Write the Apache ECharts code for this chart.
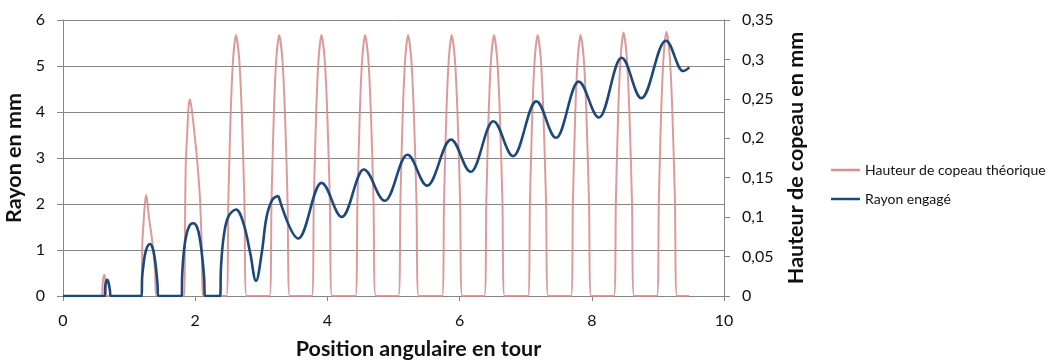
<!DOCTYPE html>
<html>
<head>
<meta charset="utf-8">
<script src="https://cdn.jsdelivr.net/npm/echarts@6/dist/echarts.min.js"></script>
<style>
html,body{margin:0;padding:0;background:#ffffff;}
#chart{width:1053px;height:360px;}
</style>
</head>
<body>
<div id="chart"></div>
<script>
// ---- Data ----
const seriesNames = ['Hauteur de copeau théorique', 'Rayon engagé'];
const xTitle = 'Position angulaire en tour';
const leftTitle = 'Rayon en mm';
const rightTitle = 'Hauteur de copeau en mm';

const xTickLabels = ['0', '2', '4', '6', '8', '10'];
const leftTickLabels = ['0', '1', '2', '3', '4', '5', '6'];
const rightTickLabels = ['0', '0,05', '0,1', '0,15', '0,2', '0,25', '0,3', '0,35'];

// Hauteur de copeau théorique (right axis, mm) : [position en tour, hauteur]
const copeauPoints = [
  [0, 0], [0.585, 0], [0.60, 0.015], [0.612, 0.024], [0.625, 0.027], [0.638, 0.022], [0.648, 0.012], [0.655, 0],
  [1.19, 0], [1.195, 0.035], [1.20, 0.067], [1.221, 0.096], [1.24, 0.118], [1.256, 0.128], [1.275, 0.12], [1.30, 0.10], [1.342, 0.075], [1.392, 0.033], [1.415, 0],
  [1.835, 0], [1.845, 0.08], [1.856, 0.164], [1.881, 0.21], [1.90, 0.24], [1.921, 0.2495], [1.95, 0.235], [1.997, 0.20], [2.038, 0.164], [2.073, 0.122], [2.10, 0.06], [2.115, 0],
  [2.472, 0], [2.501, 0.119], [2.537, 0.232], [2.574, 0.301], [2.617, 0.331], [2.665, 0.301], [2.705, 0.232], [2.745, 0.119], [2.777, 0],
  [3.125, 0], [3.154, 0.119], [3.19, 0.232], [3.227, 0.301], [3.27, 0.331], [3.318, 0.301], [3.358, 0.232], [3.398, 0.119], [3.43, 0],
  [3.765, 0], [3.794, 0.119], [3.83, 0.232], [3.867, 0.301], [3.91, 0.331], [3.958, 0.301], [3.998, 0.232], [4.038, 0.119], [4.07, 0],
  [4.425, 0], [4.454, 0.119], [4.49, 0.232], [4.527, 0.301], [4.57, 0.331], [4.618, 0.301], [4.658, 0.232], [4.698, 0.119], [4.73, 0],
  [5.075, 0], [5.104, 0.119], [5.14, 0.232], [5.177, 0.301], [5.22, 0.331], [5.268, 0.301], [5.308, 0.232], [5.348, 0.119], [5.38, 0],
  [5.735, 0], [5.764, 0.119], [5.80, 0.232], [5.837, 0.301], [5.88, 0.331], [5.928, 0.301], [5.968, 0.232], [6.008, 0.119], [6.04, 0],
  [6.375, 0], [6.404, 0.119], [6.44, 0.232], [6.477, 0.301], [6.52, 0.331], [6.568, 0.301], [6.608, 0.232], [6.648, 0.119], [6.68, 0],
  [7.035, 0], [7.064, 0.119], [7.10, 0.232], [7.137, 0.301], [7.18, 0.331], [7.228, 0.301], [7.268, 0.232], [7.308, 0.119], [7.34, 0],
  [7.685, 0], [7.714, 0.119], [7.75, 0.232], [7.787, 0.301], [7.83, 0.331], [7.878, 0.301], [7.918, 0.232], [7.958, 0.119], [7.99, 0],
  [8.335, 0], [8.364, 0.120], [8.40, 0.234], [8.437, 0.304], [8.48, 0.334], [8.528, 0.304], [8.568, 0.234], [8.608, 0.120], [8.64, 0],
  [8.985, 0], [9.014, 0.121], [9.05, 0.235], [9.087, 0.305], [9.13, 0.335], [9.178, 0.305], [9.218, 0.235], [9.258, 0.121], [9.29, 0],
  [9.47, 0]
];

// Rayon engagé (left axis, mm), first part: humps and start of the wave
const rayonDebut = [
  [0, 0], [0.63, 0], [0.64, 0.22], [0.655, 0.33], [0.67, 0.35], [0.69, 0.28], [0.71, 0.12], [0.725, 0],
  [1.19, 0], [1.197, 0.40], [1.215, 0.65], [1.24, 0.90], [1.275, 1.07], [1.316, 1.13], [1.355, 1.05], [1.385, 0.85], [1.41, 0.57], [1.43, 0.25], [1.44, 0],
  [1.795, 0], [1.803, 0.45], [1.825, 0.92], [1.86, 1.28], [1.91, 1.52], [1.97, 1.58], [2.03, 1.49], [2.075, 1.20], [2.11, 0.80], [2.135, 0.40], [2.15, 0],
  [2.375, 0], [2.39, 0.62], [2.43, 1.28], [2.50, 1.72], [2.617, 1.88], [2.73, 1.58], [2.83, 0.95], [2.92, 0.33],
  [3.006, 0.93], [3.08, 1.72], [3.17, 2.10], [3.258, 2.18]
];
// Rayon engagé (left axis, mm), oscillation: successive peaks and troughs
const rayonOndulation = [
  [3.258, 2.18], [3.56, 1.25], [3.91, 2.46], [4.22, 1.72], [4.55, 2.75],
  [4.87, 2.07], [5.21, 3.07], [5.51, 2.40], [5.87, 3.40], [6.17, 2.70], [6.51, 3.80], [6.81, 3.04],
  [7.16, 4.23], [7.46, 3.44], [7.80, 4.66], [8.11, 3.88], [8.45, 5.18], [8.75, 4.30], [9.12, 5.55],
  [9.38, 4.89], [9.475, 4.97]
];

// ---- Chart ----
const FONT = 'Lato';
const TXT = '#111111';
const AXIS = '#868686';
const BLUE = '#1C487B';

const chart = echarts.init(document.getElementById('chart'), null, {renderer: 'canvas'});
chart.setOption({
  animation: false,
  backgroundColor: '#ffffff',
  textStyle: {fontFamily: FONT},
  grid: {left: 63, right: 329, top: 20, bottom: 64, containLabel: false, outerBoundsMode: 'none'},
  legend: {
    orient: 'vertical',
    left: 826,
    top: 157,
    icon: 'rect',
    itemWidth: 29,
    itemHeight: 2.5,
    itemGap: 13,
    data: seriesNames,
    textStyle: {fontFamily: FONT, fontSize: 14, color: TXT, lineHeight: 16}
  },
  xAxis: {
    type: 'value',
    min: 0, max: 10, interval: 2,
    name: xTitle,
    nameLocation: 'middle',
    nameGap: 42,
    nameTextStyle: {fontFamily: FONT, fontSize: 21.5, fontWeight: 'bold', color: TXT, padding: [0, 0, 0, 50]},
    axisLine: {show: true, lineStyle: {color: AXIS, width: 1}},
    axisTick: {show: true, inside: false, length: 5, lineStyle: {color: AXIS}},
    splitLine: {show: false},
    axisLabel: {
      fontFamily: FONT, fontSize: 16, color: TXT, margin: 17,
      formatter: function (v) { return xTickLabels[Math.round(v / 2)]; }
    }
  },
  yAxis: [
    {
      type: 'value',
      position: 'left',
      min: 0, max: 6, interval: 1,
      name: leftTitle,
      nameLocation: 'middle',
      nameRotate: 90,
      nameGap: 34,
      nameTextStyle: {fontFamily: FONT, fontSize: 21.5, fontWeight: 'bold', color: TXT},
      axisLine: {show: true, lineStyle: {color: AXIS, width: 1}},
      axisTick: {show: true, inside: false, length: 6, lineStyle: {color: AXIS}},
      splitLine: {show: true, lineStyle: {color: AXIS, width: 1}},
      axisLabel: {
        fontFamily: FONT, fontSize: 16, color: TXT, margin: 18,
        formatter: function (v) { return leftTickLabels[Math.round(v)]; }
      }
    },
    {
      type: 'value',
      position: 'right',
      min: 0, max: 0.35, interval: 0.05,
      name: rightTitle,
      nameLocation: 'middle',
      nameRotate: 90,
      nameGap: 61,
      nameTextStyle: {fontFamily: FONT, fontSize: 21.5, fontWeight: 'bold', color: TXT},
      axisLine: {show: true, lineStyle: {color: AXIS, width: 1}},
      axisTick: {show: true, inside: false, length: 6, lineStyle: {color: AXIS}},
      splitLine: {show: false},
      axisLabel: {
        fontFamily: FONT, fontSize: 16, color: TXT, margin: 18,
        formatter: function (v) { return rightTickLabels[Math.round(v / 0.05)]; }
      }
    }
  ],
  series: [
    {
      name: seriesNames[0],
      type: 'line',
      yAxisIndex: 1,
      data: copeauPoints,
      showSymbol: false,
      smooth: 0.25,
      color: '#D9908E',
      lineStyle: {width: 2, color: 'rgba(214,138,136,0.85)'},
      z: 2
    },
    {
      name: seriesNames[1],
      type: 'line',
      yAxisIndex: 0,
      data: rayonDebut,
      showSymbol: false,
      smooth: 0.38,
      color: BLUE,
      lineStyle: {width: 2.6, color: BLUE},
      z: 3
    },
    {
      name: seriesNames[1],
      type: 'line',
      yAxisIndex: 0,
      data: rayonOndulation,
      showSymbol: false,
      smooth: 0.37,
      smoothMonotone: 'x',
      color: BLUE,
      lineStyle: {width: 2.6, color: BLUE},
      z: 3
    }
  ]
});
</script>
</body>
</html>
